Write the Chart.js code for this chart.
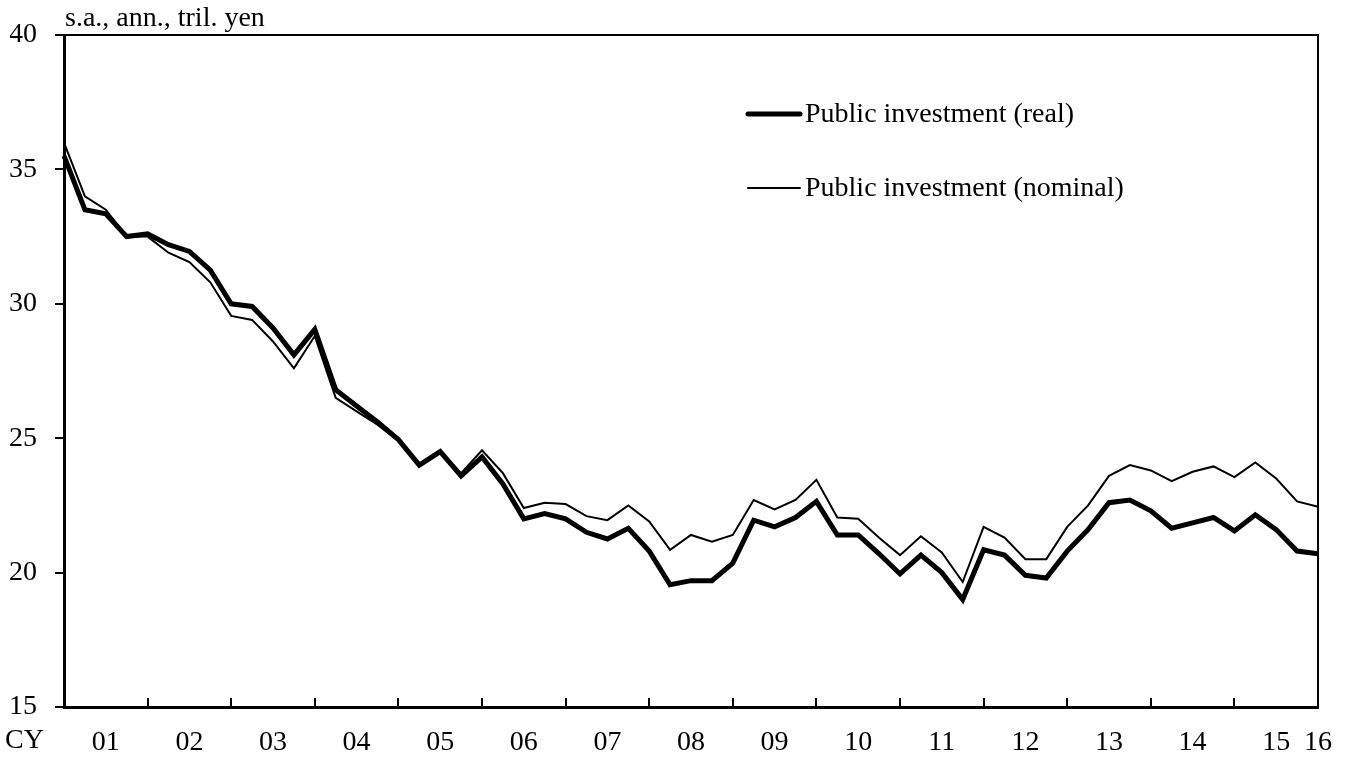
<!DOCTYPE html>
<html>
<head>
<meta charset="utf-8">
<script src="https://cdn.jsdelivr.net/npm/chart.js@4.4.1/dist/chart.umd.min.js"></script>
<style>
  html, body { margin: 0; padding: 0; background: #fff; }
  #wrap { width: 1348px; height: 757px; }
</style>
</head>
<body>
<div id="wrap"><canvas id="chart"></canvas></div>
<script>
// quarterly, CY2001 Q1 - CY2016 Q1
const quarters = [
  '01Q1','01Q2','01Q3','01Q4','02Q1','02Q2','02Q3','02Q4',
  '03Q1','03Q2','03Q3','03Q4','04Q1','04Q2','04Q3','04Q4',
  '05Q1','05Q2','05Q3','05Q4','06Q1','06Q2','06Q3','06Q4',
  '07Q1','07Q2','07Q3','07Q4','08Q1','08Q2','08Q3','08Q4',
  '09Q1','09Q2','09Q3','09Q4','10Q1','10Q2','10Q3','10Q4',
  '11Q1','11Q2','11Q3','11Q4','12Q1','12Q2','12Q3','12Q4',
  '13Q1','13Q2','13Q3','13Q4','14Q1','14Q2','14Q3','14Q4',
  '15Q1','15Q2','15Q3','15Q4','16Q1'
];

// s.a., ann., tril. yen
const realInvestment = [
  35.5, 33.5, 33.35, 32.5, 32.6, 32.2, 31.95, 31.25,
  30.0, 29.9, 29.1, 28.1, 29.05, 26.8, 26.2, 25.6,
  24.95, 24.0, 24.5, 23.6, 24.3, 23.3, 22.0, 22.2,
  22.0, 21.5, 21.25, 21.65, 20.8, 19.55, 19.7, 19.7,
  20.35, 21.95, 21.7, 22.05, 22.65, 21.4, 21.4, 20.7,
  19.95, 20.65, 20.0, 19.0, 20.85, 20.65, 19.9, 19.8,
  20.8, 21.6, 22.6, 22.7, 22.3, 21.65, 21.85, 22.05,
  21.55, 22.15, 21.6, 20.8, 20.7
];
const nominalInvestment = [
  36.0, 34.0, 33.5, 32.5, 32.5, 31.9, 31.55, 30.8,
  29.55, 29.4, 28.6, 27.6, 28.8, 26.5, 26.0, 25.5,
  24.9, 24.0, 24.5, 23.7, 24.55, 23.7, 22.4, 22.6,
  22.55, 22.1, 21.95, 22.5, 21.9, 20.85, 21.4, 21.15,
  21.4, 22.7, 22.35, 22.7, 23.45, 22.05, 22.0, 21.3,
  20.65, 21.35, 20.75, 19.65, 21.7, 21.3, 20.5, 20.5,
  21.7, 22.5, 23.6, 24.0, 23.8, 23.4, 23.75, 23.95,
  23.55, 24.1, 23.5, 22.65, 22.45
];

const seriesNames = ['Public investment (real)', 'Public investment (nominal)'];
const unitLabel = 's.a., ann., tril. yen';
const axisPrefix = 'CY';

const FONT = 'Liberation Serif, Times New Roman, serif';

const framePlugin = {
  id: 'frame',
  afterDraw(chart) {
    const { ctx, chartArea: a, scales } = chart;
    const x = scales.x;
    ctx.save();
    // box
    ctx.strokeStyle = '#000';
    ctx.lineWidth = 2;
    ctx.beginPath();
    ctx.moveTo(a.left - 9, a.top);
    ctx.lineTo(a.right, a.top);
    ctx.lineTo(a.right, a.bottom);
    ctx.stroke();
    // inward year ticks
    ctx.beginPath();
    quarters.forEach((q, i) => {
      if (i > 0 && i < quarters.length - 1 && q.endsWith('Q1')) {
        const px = Math.round(x.getPixelForValue(i));
        ctx.moveTo(px, a.bottom);
        ctx.lineTo(px, a.bottom - 9);
      }
    });
    ctx.stroke();
    // texts
    ctx.fillStyle = '#000';
    ctx.font = '28px ' + FONT;
    ctx.textBaseline = 'alphabetic';
    ctx.textAlign = 'left';
    ctx.fillText(unitLabel, a.left + 1, 26);
    ctx.textBaseline = 'middle';
    ctx.fillText(axisPrefix, 5, 741);
    // legend
    const rows = [114, 188];
    chart.data.datasets.forEach((ds, i) => {
      ctx.lineWidth = ds.borderWidth;
      ctx.lineCap = 'round';
      ctx.beginPath();
      ctx.moveTo(748, rows[i]);
      ctx.lineTo(800, rows[i]);
      ctx.stroke();
      ctx.fillText(ds.label, 805, rows[i] + 1);
    });
    ctx.restore();
  }
};

new Chart(document.getElementById('chart'), {
  type: 'line',
  data: {
    labels: quarters,
    datasets: [
      {
        label: seriesNames[0],
        data: realInvestment,
        borderColor: '#000',
        borderWidth: 5,
        pointRadius: 0,
        tension: 0
      },
      {
        label: seriesNames[1],
        data: nominalInvestment,
        borderColor: '#000',
        borderWidth: 2,
        pointRadius: 0,
        tension: 0
      }
    ]
  },
  options: {
    responsive: true,
    maintainAspectRatio: false,
    animation: false,
    events: [],
    layout: { padding: { left: 10, right: 30, top: 35, bottom: 2 } },
    plugins: {
      legend: { display: false },
      tooltip: { enabled: false }
    },
    scales: {
      x: {
        offset: false,
        grid: { display: false, drawTicks: false },
        border: { display: true, color: '#000', width: 3 },
        afterFit(scale) {
          scale.height = 48;
          scale.paddingLeft = 0;
          scale.paddingRight = 0;
        },
        ticks: {
          autoSkip: false,
          maxRotation: 0,
          padding: 19,
          color: '#000',
          font: { family: FONT, size: 28 },
          callback(v, i) {
            const q = quarters[i];
            if (i === quarters.length - 1) return q.slice(0, 2);
            return q.endsWith('Q3') ? q.slice(0, 2) : '';
          }
        }
      },
      y: {
        min: 15,
        max: 40,
        afterFit(scale) { scale.width = 54; },
        grid: { drawOnChartArea: false, drawTicks: true, tickLength: 9, color: '#000', lineWidth: 2 },
        border: { display: true, color: '#000', width: 3 },
        ticks: {
          stepSize: 5,
          padding: 18,
          color: '#000',
          font: { family: FONT, size: 28 }
        }
      }
    }
  },
  plugins: [framePlugin]
});
</script>
</body>
</html>
